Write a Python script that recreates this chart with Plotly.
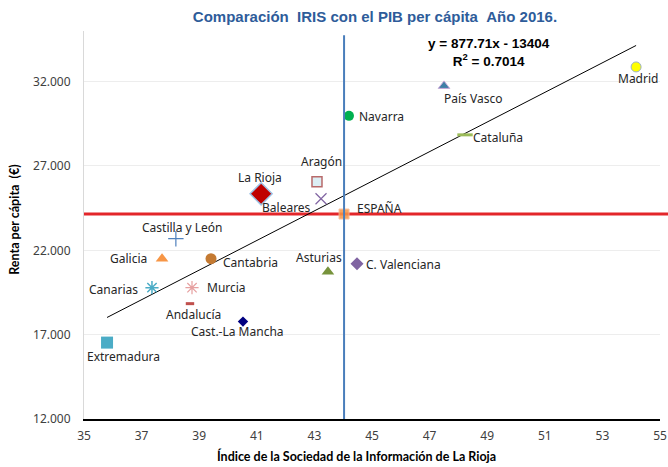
import plotly.graph_objects as go

# ---- data ----
regions = ["Madrid", "País Vasco", "Navarra", "Cataluña", "Aragón", "La Rioja",
           "Baleares", "ESPAÑA", "Castilla y León", "Galicia", "Cantabria",
           "Asturias", "C. Valenciana", "Canarias", "Murcia", "Andalucía",
           "Cast.-La Mancha", "Extremadura"]
iris = [54.17, 47.50, 44.20, 48.23, 43.09, 41.15, 43.23, 44.03, 38.19, 37.71,
        39.41, 43.47, 44.48, 37.36, 38.75, 38.68, 40.52, 35.80]
renta = [32870, 31745, 29969, 28844, 26062, 25351, 25055, 24150, 22687, 21503,
         21503, 20733, 21207, 19786, 19786, 18838, 17773, 16529]

espana_iris = 44.03
espana_renta = 24150

trend_slope = 877.71
trend_intercept = -13404

x_ticks = [35, 37, 39, 41, 43, 45, 47, 49, 51, 53, 55]
y_ticks = [12000, 17000, 22000, 27000, 32000]

title_text = "Comparación \u00a0IRIS con el PIB per cápita \u00a0Año 2016."
x_title = "Índice de la Sociedad de la Información de La Rioja"
y_title = "Renta per cápita \u00a0(€)"
eq_text = "<b>y = 877.71x - 13404</b><br><b>R<sup>2</sup> = 0.7014</b>"

# ---- styles (symbol, size, fill, line color, line width, opacity) ----
styles = {
    "Madrid": ("circle", 10, "#FFFF00", "#9DB3C8", 1, 1),
    "País Vasco": ("triangle-up", 10, "#3F7FA6", "#C8A8D8", 1, 1),
    "Navarra": ("circle", 10, "#00B050", "#00B050", 0, 1),
    "Cataluña": ("line-ew", 11, "#9BBB59", "#9BBB59", 3, 1),
    "Aragón": ("square", 10, "#DCEEF4", "#B86A6A", 1.5, 1),
    "La Rioja": ("diamond", 17, "#C00000", "#9DC3E6", 1.5, 1),
    "Baleares": ("x-thin", 11, "#8064A2", "#8064A2", 1.2, 1),
    "ESPAÑA": ("square", 10, "#F79646", "#FAB890", 1, 0.85),
    "Castilla y León": ("cross-thin", 11, "#4F81BD", "#4F81BD", 1.2, 1),
    "Galicia": ("triangle-up", 11, "#F79646", "#F79646", 0, 1),
    "Cantabria": ("circle", 11, "#C47A32", "#C47A32", 0, 1),
    "Asturias": ("triangle-up", 11, "#77933C", "#77933C", 0, 1),
    "C. Valenciana": ("diamond", 10, "#8064A2", "#8064A2", 0, 1),
    "Canarias": ("asterisk-open", 11, "#4BACC6", "#4BACC6", 1.5, 1),
    "Murcia": ("asterisk-open", 11, "#E6A0A0", "#E6A0A0", 1.2, 1),
    "Andalucía": ("line-ew", 6, "#C0504D", "#C0504D", 3, 1),
    "Cast.-La Mancha": ("diamond", 8, "#000080", "#000080", 0, 1),
    "Extremadura": ("square", 12, "#4BACC6", "#4BACC6", 0, 1),
}

# label placement: (xanchor, dx px, dy px downward)
label_pos = {
    "Madrid": ("center", 2, 12),
    "País Vasco": ("left", -2, 13),
    "Navarra": ("left", 8, 1),
    "Cataluña": ("left", 6, 3),
    "Aragón": ("center", 5, -20),
    "La Rioja": ("center", -1, -16),
    "Baleares": ("right", -8, 9),
    "ESPAÑA": ("left", 11, -6),
    "Castilla y León": ("center", 7, -11),
    "Galicia": ("right", -13, 0),
    "Cantabria": ("left", 10, 4),
    "Asturias": ("center", -9, -14),
    "C. Valenciana": ("left", 7, 1),
    "Canarias": ("right", -12, 2),
    "Murcia": ("left", 13, 0),
    "Andalucía": ("center", 4, 11),
    "Cast.-La Mancha": ("center", -5, 10),
    "Extremadura": ("center", 16, 14),
}

label_font = dict(family="Noto Sans, Open Sans, sans-serif", size=12, color="#262626")
tick_font = dict(family="Noto Sans, sans-serif", size=12, color="#404040")
axis_title_font = dict(family="Lato, sans-serif", size=12.5, color="#000000")

W, H = 668, 467
ML, MR, MT, MB = 84, 8, 31, 47.5
PW, PH = W - ML - MR, H - MT - MB


def px_to_paper(px, py):
    return (px - ML) / PW, (H - MB - py) / PH


fig = go.Figure()

# trend line
tx = [min(iris), max(iris)]
ty = [trend_slope * v + trend_intercept for v in tx]
fig.add_trace(go.Scatter(x=tx, y=ty, mode="lines",
                         line=dict(color="#000000", width=1), hoverinfo="skip",
                         showlegend=False))

for name, xv, yv in zip(regions, iris, renta):
    sym, size, fill, lc, lw, op = styles[name]
    open_like = sym.endswith("-thin") or sym.endswith("-open")
    marker = dict(symbol=sym, size=size, color=lc if open_like else fill,
                  opacity=op, line=dict(color=lc, width=lw))
    fig.add_trace(go.Scatter(x=[xv], y=[yv], mode="markers", marker=marker,
                             name=name, showlegend=False))

annotations = []
for name, xv, yv in zip(regions, iris, renta):
    anc, dx, dy = label_pos[name]
    annotations.append(dict(x=xv, y=yv, xref="x", yref="y", text=name,
                            showarrow=False, xanchor=anc, yanchor="middle",
                            xshift=dx, yshift=-dy, font=label_font))

# equation of the trend line
ex, ey = px_to_paper(489, 52.5)
annotations.append(dict(x=ex, y=ey, xref="paper", yref="paper", text=eq_text,
                        showarrow=False, xanchor="center", yanchor="middle",
                        align="center",
                        font=dict(family="Liberation Sans, Arial, sans-serif",
                                  size=13.5, color="#000000")))

# axis titles
xtx, xty = px_to_paper(356, 457)
annotations.append(dict(x=xtx, y=xty, xref="paper", yref="paper",
                        text="<b>" + x_title + "</b>", showarrow=False,
                        xanchor="center", yanchor="middle", font=axis_title_font))
ytx, yty = px_to_paper(15, 220)
annotations.append(dict(x=ytx, y=yty, xref="paper", yref="paper",
                        text="<b>" + y_title + "</b>", showarrow=False, textangle=-90,
                        xanchor="center", yanchor="middle", font=axis_title_font))

shapes = [
    dict(type="line", xref="paper", yref="y", x0=0, x1=1.02, layer="below",
         y0=espana_renta, y1=espana_renta, line=dict(color="#E3262A", width=3)),
    dict(type="line", xref="x", yref="y", x0=espana_iris, x1=espana_iris,
         y0=12000, y1=34750, line=dict(color="#4A7EBB", width=2)),
]

fig.update_layout(
    width=W, height=H,
    margin=dict(l=ML, r=MR, t=MT, b=MB, autoexpand=False),
    paper_bgcolor="#FFFFFF", plot_bgcolor="#FFFFFF",
    separators=",.",
    title=dict(text="<b>" + title_text + "</b>", x=375 / W, xanchor="center",
               y=1 - 17 / H, yanchor="middle", automargin=False,
               font=dict(family="Liberation Sans, Arial, sans-serif", size=15,
                         color="#2E5C9A")),
    xaxis=dict(range=[35, 55], tickvals=x_ticks, showgrid=False, automargin=False,
               showline=True, linecolor="#000000", linewidth=1.5,
               zeroline=False, ticks="outside", ticklen=5, tickcolor="rgba(0,0,0,0)",
               tickfont=tick_font),
    yaxis=dict(range=[12000, 35000], tickvals=y_ticks, tickformat=",d",
               showgrid=True, gridcolor="#EDEDED", gridwidth=1, automargin=False,
               showline=True, linecolor="#D9D9D9", linewidth=1,
               zeroline=False, ticks="outside", ticklen=10, tickcolor="rgba(0,0,0,0)",
               tickfont=tick_font),
    annotations=annotations,
    shapes=shapes,
    showlegend=False,
)

fig.write_html("out.html", config={"displayModeBar": False},
               post_script="document.body.style.margin='0';document.body.style.overflow='hidden';")
